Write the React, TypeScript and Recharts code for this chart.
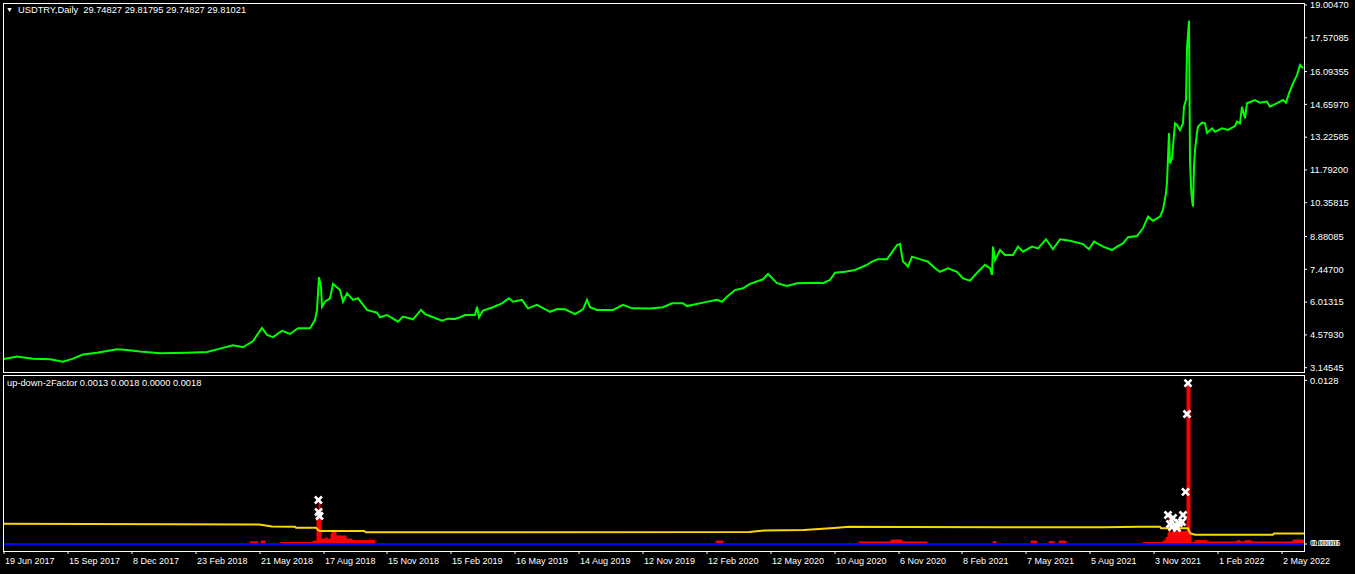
import { LineChart, Line, XAxis, YAxis, ComposedChart, Area, Scatter } from "recharts";

const FONT = '"Liberation Sans", Arial, sans-serif';
const FS = 9.3;

// bar index 0 = 19 Jun 2017, one daily bar per unit
const dateIdx = [0, 64, 128, 192, 256, 320, 383, 447, 511, 575, 639, 703, 767, 831, 895, 958, 1022, 1086, 1150, 1214, 1278];
const dateLabels = [
  "19 Jun 2017", "15 Sep 2017", "8 Dec 2017", "23 Feb 2018", "21 May 2018", "17 Aug 2018",
  "15 Nov 2018", "15 Feb 2019", "16 May 2019", "14 Aug 2019", "12 Nov 2019", "12 Feb 2020",
  "12 May 2020", "10 Aug 2020", "6 Nov 2020", "8 Feb 2021", "7 May 2021", "5 Aug 2021",
  "3 Nov 2021", "1 Feb 2022", "2 May 2022",
];

const priceTicks = [19.0047, 17.57085, 16.09355, 14.6597, 13.22585, 11.792, 10.35815, 8.88085, 7.447, 6.01315, 4.5793, 3.14545];

// USDTRY daily close
const priceIdx = [
  0, 13, 29, 46, 59, 69, 79, 93, 113, 123, 136, 156, 183, 203, 216, 229, 239, 249, 258, 263,
  269, 278, 286, 294, 306, 311, 313, 315, 317, 318, 321, 326, 329, 336, 339, 343, 349, 354, 363, 373,
  376, 383, 394, 399, 409, 417, 421, 429, 438, 444, 451, 456, 461, 471, 473, 475, 479, 489, 498, 505,
  509, 518, 524, 533, 546, 553, 561, 571, 579, 583, 586, 593, 609, 619, 628, 646, 659, 668, 679, 683,
  699, 713, 718, 723, 731, 739, 746, 759, 764, 773, 783, 793, 816, 819, 826, 831, 841, 851, 863, 868,
  874, 883, 886, 893, 896, 899, 901, 904, 908, 919, 924, 931, 936, 944, 953, 959, 966, 974, 981, 986,
  988, 989, 991, 996, 1001, 1009, 1014, 1019, 1028, 1034, 1042, 1049, 1056, 1066, 1079, 1085, 1090, 1099, 1108, 1113,
  1119, 1124, 1133, 1139, 1144, 1149, 1156, 1159, 1162, 1163, 1165, 1166, 1168, 1169, 1171, 1173, 1176, 1179, 1180, 1182,
  1183, 1185, 1186, 1187, 1188, 1189, 1190, 1191, 1193, 1194, 1198, 1201, 1203, 1208, 1211, 1218, 1224, 1231, 1233, 1236,
  1238, 1241, 1243, 1251, 1256, 1263, 1266, 1273, 1279, 1282, 1285, 1289, 1293, 1296, 1299,
];
const priceVal = [
  3.53, 3.63, 3.54, 3.51, 3.41, 3.54, 3.72, 3.8, 3.95, 3.92, 3.85, 3.78, 3.8, 3.83, 3.98, 4.13, 4.04, 4.31, 4.88, 4.58,
  4.48, 4.76, 4.62, 4.87, 4.87, 5.23, 5.67, 7.1, 6.69, 5.81, 6.03, 6.18, 6.81, 6.54, 6.03, 6.4, 6.11, 6.18, 5.67, 5.55,
  5.35, 5.45, 5.16, 5.38, 5.26, 5.67, 5.49, 5.35, 5.2, 5.29, 5.28, 5.35, 5.45, 5.45, 5.81, 5.35, 5.64, 5.79, 5.96, 6.18,
  6.03, 6.11, 5.74, 5.89, 5.59, 5.71, 5.7, 5.49, 5.7, 6.11, 5.79, 5.67, 5.67, 5.89, 5.74, 5.73, 5.79, 5.96, 5.96, 5.84,
  5.99, 6.11, 6.03, 6.25, 6.54, 6.62, 6.81, 7.01, 7.24, 6.84, 6.72, 6.84, 6.86, 6.84, 6.98, 7.3, 7.34, 7.42, 7.64, 7.78,
  7.89, 7.89, 8.07, 8.51, 8.55, 7.78, 7.71, 7.56, 8.0, 7.85, 7.78, 7.49, 7.34, 7.49, 7.34, 7.05, 6.95, 7.34, 7.64, 7.49,
  7.2, 8.44, 7.85, 8.29, 8.07, 8.07, 8.44, 8.22, 8.44, 8.36, 8.76, 8.32, 8.76, 8.7, 8.55, 8.32, 8.66, 8.44, 8.29, 8.44,
  8.58, 8.85, 8.9, 9.24, 9.75, 9.57, 9.75, 10.04, 10.78, 11.25, 13.41, 12.08, 12.3, 12.81, 13.83, 13.76, 13.54, 13.83, 14.56, 14.85,
  17.11, 18.32, 12.23, 11.06, 10.48, 10.19, 11.93, 12.66, 13.41, 13.68, 13.86, 13.83, 13.41, 13.61, 13.46, 13.61, 13.54, 13.71, 13.9, 13.83,
  14.56, 14.05, 14.71, 14.85, 14.73, 14.78, 14.56, 14.71, 14.85, 14.73, 15.14, 15.58, 15.94, 16.38, 16.24,
];

// up-down-2Factor buffers
const yellowIdx = [0, 255, 268, 291, 292, 312, 314, 316, 360, 362, 745, 760, 800, 830, 845, 900, 1000, 1100, 1136, 1156, 1157, 1184, 1186, 1191, 1269, 1270, 1300];
const yellowVal = [0.00158, 0.00152, 0.00137, 0.00135, 0.00127, 0.00127, 0.00109, 0.00102, 0.00102, 0.00091, 0.00093, 0.00106, 0.00109, 0.00125, 0.00135, 0.00133, 0.0013, 0.0013, 0.00135, 0.00135, 0.00123, 0.00123, 0.00084, 0.00073, 0.00073, 0.00081, 0.00081];

const blueIdx = [0, 1300];
const blueVal = [0, 0];

const redIdx = [
  0, 246, 254, 257, 261, 276, 309, 313, 315, 316, 317, 322, 323, 327, 328, 332, 336, 342, 348, 371,
  712, 719, 855, 887, 898, 923, 989, 992, 1027, 1033, 1045, 1050, 1055, 1062, 1139, 1159, 1162, 1164, 1165, 1166,
  1168, 1183, 1186, 1187, 1191, 1203, 1233, 1236, 1241, 1247, 1289, 1300,
];
const redVal = [
  0, 0.00016, 0, 0.00023, 0, 0.00012, 0.00023, 0.00203, 0.00344, 0.00203, 0.00039, 0.0005, 0.00039, 0.0008, 0.00102, 0.00063, 0.00063, 0.00039, 0.00026, 0,
  0.00023, 0, 0.00016, 0.00031, 0.00016, 0, 0.0002, 0, 0.00023, 0, 0.0002, 0, 0.00023, 0, 0.00012, 0.00023, 0.0005, 0.00086, 0.00211, 0.00086,
  0.00096, 0.01259, 0.00094, 0.00012, 0.00026, 0.00016, 0.00026, 0.00016, 0.00026, 0.00016, 0.00031, 0.00031,
];

const markIdx = [314.4, 314.6, 315.5, 1184, 1183, 1181.5, 1164, 1169, 1166, 1171, 1175, 1179, 1178, 1173, 1168];
const markVal = [0.00344, 0.0025, 0.00219, 0.01259, 0.01017, 0.00407, 0.00227, 0.00203, 0.00156, 0.00149, 0.00164, 0.00227, 0.00172, 0.00125, 0.00133];

const priceData = priceIdx.map((i, k) => ({ i, p: priceVal[k] }));

function buildIndicatorRows() {
  const rows: Record<number, any> = {};
  const put = (idx: number[], val: number[], key: string) =>
    idx.forEach((i, k) => {
      rows[i] = rows[i] || { i };
      rows[i][key] = val[k];
    });
  put(yellowIdx, yellowVal, "y");
  put(blueIdx, blueVal, "b");
  put(redIdx, redVal, "r");
  put(markIdx, markVal, "m");
  return Object.values(rows).sort((a, b) => a.i - b.i);
}
const indData = buildIndicatorRows();

const DateTick = ({ x, y, payload }: any) => (
  <text x={x + 1} y={y} dy="0.71em" fill="#fff" fontSize={9} fontFamily={FONT} textAnchor="start">
    {dateLabels[dateIdx.indexOf(payload.value)]}
  </text>
);

// min label and the blue line's value label sit on top of each other, as in the terminal
const IndTick = ({ x, y, payload }: any) => {
  if (payload.value === 0) {
    return (
      <g fill="#fff" fontSize={FS} fontFamily={FONT}>
        <text x={x} y={y - 1} dy="0.355em">0.0000</text>
        <text x={x + 2} y={y - 1} dy="0.355em">0.0006</text>
      </g>
    );
  }
  return (
    <text x={x} y={y} dy="0.355em" fill="#fff" fontSize={FS} fontFamily={FONT}>
      {payload.value.toFixed(4)}
    </text>
  );
};

const Cross = (props: any) => {
  const { cx, cy, payload } = props;
  if (payload == null || payload.m == null || !isFinite(cx) || !isFinite(cy)) return <g />;
  const s = 3.5;
  return (
    <g stroke="#fff" strokeWidth={2.6}>
      <line x1={cx - s} y1={cy - s} x2={cx + s} y2={cy + s} />
      <line x1={cx - s} y1={cy + s} x2={cx + s} y2={cy - s} />
    </g>
  );
};

const frame = (top: number, height: number) => ({
  position: "absolute" as const,
  left: 3,
  top,
  width: 1302,
  height,
  boxSizing: "border-box" as const,
  border: "1px solid #fff",
  pointerEvents: "none" as const,
});

const label = (top: number, left: number) => ({
  position: "absolute" as const,
  left,
  top,
  color: "#fff",
  fontSize: FS,
  fontFamily: FONT,
  lineHeight: "12px",
  whiteSpace: "pre" as const,
});

export default function App() {
  return (
    <div style={{ position: "absolute", left: 0, top: 0, width: 1355, height: 574, background: "#000", overflow: "hidden" }}>
      {/* price pane */}
      <div style={{ position: "absolute", left: 0, top: 0 }}>
        <LineChart width={1355} height={372} data={priceData} margin={{ top: 3, right: 0, bottom: 0, left: 4 }}>
          <XAxis dataKey="i" type="number" domain={[0, 1300]} hide />
          <YAxis
            orientation="right"
            width={51}
            domain={[2.957, 19.092]}
            allowDataOverflow
            ticks={priceTicks}
            interval={0}
            axisLine={false}
            tickSize={3}
            tickMargin={3}
            tickLine={{ stroke: "#fff" }}
            tick={{ fill: "#fff", fontSize: FS, fontFamily: FONT }}
            tickFormatter={(v: number) => v.toFixed(5)}
          />
          <Line type="linear" dataKey="p" stroke="#00ff00" strokeWidth={2} dot={false} isAnimationActive={false} />
        </LineChart>
      </div>

      {/* indicator pane */}
      <div style={{ position: "absolute", left: 0, top: 370 }}>
        <ComposedChart width={1355} height={204} data={indData} margin={{ top: 5, right: 0, bottom: 0, left: 4 }}>
          <XAxis
            dataKey="i"
            type="number"
            domain={[0, 1300]}
            ticks={dateIdx}
            interval={0}
            height={23}
            axisLine={false}
            tickSize={3}
            tickMargin={4}
            tickLine={{ stroke: "#fff" }}
            tick={<DateTick />}
          />
          <YAxis
            orientation="right"
            width={51}
            domain={[-0.00055, 0.01322]}
            allowDataOverflow
            ticks={[0, 0.0128]}
            interval={0}
            axisLine={false}
            tickSize={3}
            tickMargin={3}
            tickLine={{ stroke: "#fff" }}
            tick={<IndTick />}
          />
          <Area type="stepAfter" dataKey="r" fill="#ff0000" fillOpacity={1} stroke="#ff0000" strokeWidth={1} baseValue={0} connectNulls isAnimationActive={false} />
          <Line type="linear" dataKey="y" stroke="#ffd700" strokeWidth={2} dot={false} connectNulls isAnimationActive={false} />
          <Line type="linear" dataKey="b" stroke="#0000ff" strokeWidth={2} dot={false} connectNulls isAnimationActive={false} />
          <Scatter dataKey="m" shape={<Cross />} isAnimationActive={false} />
        </ComposedChart>
      </div>

      <div style={frame(3, 370)} />
      <div style={frame(375, 177)} />

      <div style={{ ...label(4, 6), fontSize: 7 }}>▼</div>
      <div style={label(4, 18)}>{"USDTRY,Daily  29.74827 29.81795 29.74827 29.81021"}</div>
      <div style={label(377, 7)}>{"up-down-2Factor 0.0013 0.0018 0.0000 0.0018"}</div>
    </div>
  );
}
